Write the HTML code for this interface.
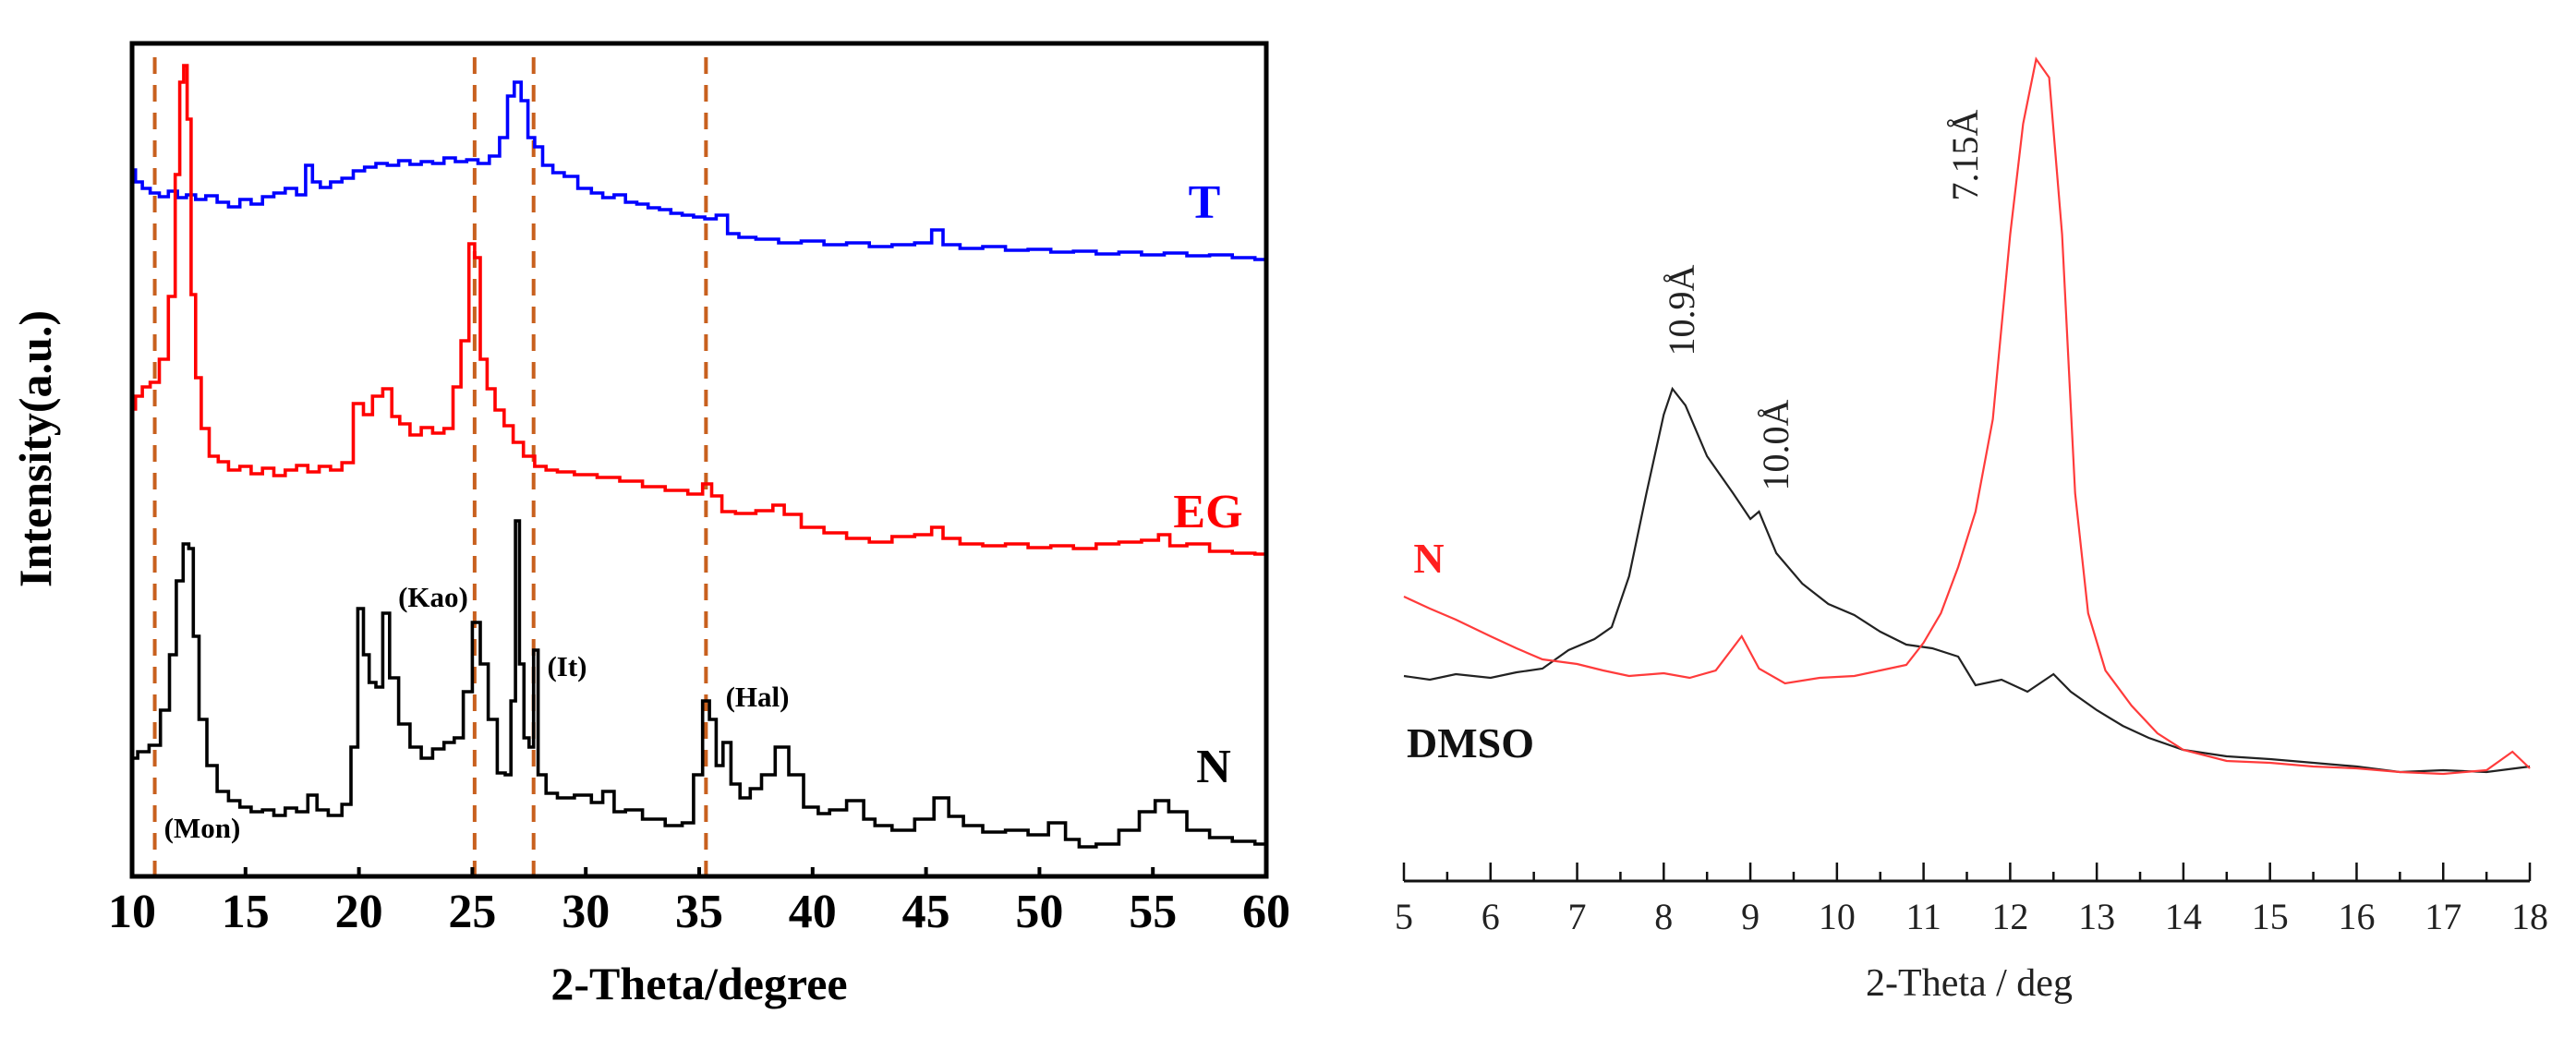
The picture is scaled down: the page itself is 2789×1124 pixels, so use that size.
<!DOCTYPE html>
<html><head><meta charset="utf-8"><style>
html,body{margin:0;padding:0;background:#fff;}
svg{display:block;}
</style></head>
<body>
<svg id="fig" width="2789" height="1124" viewBox="0 0 2789 1124" xmlns="http://www.w3.org/2000/svg">
<g id="left"></g>
<g id="right"></g>
</svg>
<script>
// ===== Left chart data =====
const leftTicks = [10,15,20,25,30,35,40,45,50,60,55];
const refLines = [11, 25.1, 27.7, 35.3];
const tTheta = [10,10.3,10.6,11,11.4,11.8,12.2,12.6,13,13.5,14,14.5,15,15.5,16,16.5,17,17.5,17.8,18.1,18.5,19,19.5,20,20.5,21,21.5,22,22.5,23,23.5,24,24.5,25,25.5,26,26.4,26.7,27,27.3,27.6,27.9,28.3,28.8,29.3,30,30.5,31,31.5,32,32.5,33,33.5,34,34.5,35,35.5,36,36.5,37,38,39,40,41,42,43,44,45,45.5,46,47,48,49,50,51,52,53,54,55,56,57,58,59,60];
const tInt = [765,752,745,740,736,742,735,738,733,737,730,725,733,728,736,740,745,738,770,752,746,752,756,764,768,772,770,775,771,774,772,778,774,776,772,780,800,845,860,840,800,790,770,762,758,745,740,735,738,730,728,724,722,718,716,714,712,716,696,692,690,686,688,684,686,682,684,686,700,684,680,682,678,679,676,677,674,676,673,675,672,673,670,668];
const egTheta = [10,10.3,10.6,11,11.4,11.8,12.0,12.2,12.35,12.5,12.7,12.9,13.2,13.6,14,14.5,15,15.5,16,16.5,17,17.5,18,18.5,19,19.5,20,20.4,20.8,21.3,21.6,22,22.5,23,23.5,24,24.3,24.7,25,25.2,25.5,25.8,26.2,26.6,27,27.5,28,28.5,29,30,31,32,33,34,35,35.3,35.8,36.2,37,38,38.5,39,40,41,42,43,44,45,45.5,46,47,48,49,50,51,52,53,54,55,55.5,56,57,58,59,60];
const egInt = [506,520,530,535,560,628,760,860,878,820,630,540,485,455,449,440,444,436,442,434,440,445,438,444,440,448,512,500,520,528,498,490,478,486,480,485,530,580,685,670,560,528,505,488,470,455,444,440,438,435,432,428,422,418,414,425,412,395,393,396,402,392,378,372,366,362,368,370,378,366,360,358,360,356,358,355,360,362,364,370,358,360,352,350,349];
const nTheta = [10,10.5,11,11.5,11.8,12.1,12.4,12.6,12.8,13.1,13.5,14,14.5,15,15.5,16,16.5,17,17.5,18,18.3,19,19.5,19.8,20.1,20.3,20.6,20.9,21.2,21.5,22,22.5,23,23.5,24,24.4,24.8,25.2,25.5,25.9,26.3,26.6,26.8,27.0,27.15,27.4,27.6,27.8,28,28.5,29,30,30.5,31,31.5,32,33,34,34.5,35,35.3,35.6,35.9,36.2,36.6,37,37.5,38,38.7,39.2,40,40.5,41,42,42.5,43,44,45,45.7,46.3,47,48,49,50,50.8,51.5,52,53,54,54.8,55.4,56,57,58,59,60];
const nInt = [128,135,142,180,240,320,360,355,260,170,120,92,82,75,70,72,66,74,70,88,72,66,78,140,290,240,210,205,285,215,165,140,128,138,145,150,200,275,230,170,112,110,190,385,230,150,140,245,110,90,85,88,80,92,70,72,62,55,58,110,190,170,120,145,100,85,95,110,140,110,75,68,72,82,62,55,50,62,85,65,55,48,50,45,58,40,32,35,50,70,82,70,50,42,38,35];

// ===== Right chart data =====
const rightTicks = [5,6,7,8,9,10,11,12,13,14,15,16,17,18];
const dTheta = [5,5.3,5.6,6,6.3,6.6,6.9,7.2,7.4,7.6,7.8,8.0,8.1,8.25,8.5,8.8,9.0,9.1,9.3,9.6,9.9,10.2,10.5,10.8,11.1,11.4,11.6,11.9,12.2,12.5,12.7,13,13.3,13.6,14,14.5,15,15.5,16,16.5,17,17.5,18];
const dInt = [222,218,224,220,226,230,250,262,275,330,420,505,533,515,460,420,392,400,355,322,300,288,270,256,252,243,212,218,205,224,205,185,168,155,142,135,132,128,124,118,120,118,124];
const rnTheta = [5,5.3,5.6,6,6.3,6.6,7,7.3,7.6,8,8.3,8.6,8.9,9.1,9.4,9.8,10.2,10.5,10.8,11.0,11.2,11.4,11.6,11.8,12.0,12.15,12.3,12.45,12.6,12.75,12.9,13.1,13.4,13.7,14,14.5,15,15.5,16,16.5,17,17.5,17.8,18];
const rnInt = [308,295,283,265,252,240,235,228,222,225,220,228,265,230,214,220,222,228,234,258,290,340,400,500,700,820,890,870,700,420,290,228,190,160,142,130,128,124,122,118,116,120,140,122];

const NS = 'http://www.w3.org/2000/svg';
function mk(parent, tag, attrs, text){
  const e = document.createElementNS(NS, tag);
  for (const k in attrs) e.setAttribute(k, attrs[k]);
  if (text !== undefined) e.textContent = text;
  parent.appendChild(e);
  return e;
}

// ----- Left chart -----
const L = document.getElementById('left');
const lx0=143, lx1=1371, ly0=47, ly1=949;
const lxs = v => lx0 + (v-10)/(60-10)*(lx1-lx0);
const lys = v => ly1 - v;
function stepPath(xs, ys, fx, fy){
  let d = 'M'+fx(xs[0]).toFixed(1)+' '+fy(ys[0]).toFixed(1);
  for (let i=1;i<xs.length;i++){
    const mid = (fx(xs[i-1])+fx(xs[i]))/2;
    d += ' H'+mid.toFixed(1)+' V'+fy(ys[i]).toFixed(1);
  }
  d += ' H'+fx(xs[xs.length-1]).toFixed(1);
  return d;
}
refLines.forEach(r=>{
  const el = mk(L,'line',{x1:lxs(r),x2:lxs(r),y1:62,y2:ly1,stroke:'#c8601e','stroke-width':4,'stroke-dasharray':'18,12'});
  
  
});
[[tTheta,tInt,'#0000ff','series-t'],[egTheta,egInt,'#ff0000','series-eg'],[nTheta,nInt,'#000000','series-n']].forEach(s=>{
  const el = mk(L,'path',{d:stepPath(s[0],s[1],lxs,lys),fill:'none',stroke:s[2],'stroke-width':3.6,'stroke-linejoin':'miter'});
  
  
});
const frame = mk(L,'rect',{x:lx0,y:ly0,width:lx1-lx0,height:ly1-ly0,fill:'none',stroke:'#000','stroke-width':5});


leftTicks.forEach(t=>{
  const tk = mk(L,'line',{x1:lxs(t),x2:lxs(t),y1:ly1,y2:ly1-10,stroke:'#000','stroke-width':4});
  
  
  const lb = mk(L,'text',{x:lxs(t),y:1004,'text-anchor':'middle','font-family':'Liberation Serif, serif','font-weight':'bold','font-size':52,fill:'#000'}, String(t));
  
  
});
const lxt = mk(L,'text',{x:757,y:1082,'text-anchor':'middle','font-family':'Liberation Serif, serif','font-weight':'bold','font-size':50,fill:'#000'},'2-Theta/degree');


const lyt = mk(L,'text',{x:0,y:0,transform:'translate(55,486) rotate(-90)','text-anchor':'middle','font-family':'Liberation Serif, serif','font-weight':'bold','font-size':50,fill:'#000'},'Intensity(a.u.)');


[['T',1304,236,'#0000ff','label-t'],['EG',1308,571,'#ff0000','label-eg'],['N',1314,847,'#000','label-n']].forEach(a=>{
  const el = mk(L,'text',{x:a[1],y:a[2],'text-anchor':'middle','font-family':'Liberation Serif, serif','font-weight':'bold','font-size':52,fill:a[3]},a[0]);
  
  
});
[['(Kao)',469,657,'label-kao'],['(It)',614,732,'label-it'],['(Hal)',820,765,'label-hal'],['(Mon)',219,907,'label-mon']].forEach(a=>{
  const el = mk(L,'text',{x:a[1],y:a[2],'text-anchor':'middle','font-family':'Liberation Serif, serif','font-weight':'bold','font-size':31,fill:'#000'},a[0]);
  
  
});

// ----- Right chart -----
const R = document.getElementById('right');
const rx0=1520, rx1=2739, ry1=954;
const rxs = v => rx0 + (v-5)/(18-5)*(rx1-rx0);
const rys = v => ry1 - v;
function linePath(xs, ys, fx, fy){
  return xs.map((x,i)=>(i?'L':'M')+fx(x).toFixed(1)+' '+fy(ys[i]).toFixed(1)).join(' ');
}
const rd = mk(R,'path',{d:linePath(dTheta,dInt,rxs,rys),fill:'none',stroke:'#222','stroke-width':2.2});


const rn = mk(R,'path',{d:linePath(rnTheta,rnInt,rxs,rys),fill:'none',stroke:'#ff3b3b','stroke-width':2.2});


const rax = mk(R,'line',{x1:rx0,x2:rx1,y1:ry1,y2:ry1,stroke:'#111','stroke-width':3});


rightTicks.forEach((t,i)=>{
  const tk = mk(R,'line',{x1:rxs(t),x2:rxs(t),y1:ry1,y2:ry1-20,stroke:'#111','stroke-width':2.5});
  
  
  if (i < rightTicks.length-1){
    const mt = mk(R,'line',{x1:rxs(t+0.5),x2:rxs(t+0.5),y1:ry1,y2:ry1-10,stroke:'#111','stroke-width':2.5});
    
    
  }
  const lb = mk(R,'text',{x:rxs(t),y:1006,'text-anchor':'middle','font-family':'Liberation Serif, serif','font-size':40,fill:'#222'}, String(t));
  
  
});
const rxt = mk(R,'text',{x:2132,y:1078,'text-anchor':'middle','font-family':'Liberation Serif, serif','font-size':42,fill:'#222'},'2-Theta / deg');


[['7.15Å',2127,168,'label-7-15'],['10.9Å',1820,336,'label-10-9'],['10.0Å',1922,482,'label-10-0']].forEach(a=>{
  const el = mk(R,'text',{x:0,y:0,transform:'translate('+(a[1]+14)+','+a[2]+') rotate(-90)','text-anchor':'middle','font-family':'Liberation Serif, serif','font-size':40,fill:'#222'},a[0]);
  
  
});
const rnl = mk(R,'text',{x:1547,y:620,'text-anchor':'middle','font-family':'Liberation Serif, serif','font-weight':'bold','font-size':46,fill:'#ff2020'},'N');


const rdl = mk(R,'text',{x:1592,y:820,'text-anchor':'middle','font-family':'Liberation Serif, serif','font-weight':'bold','font-size':46,fill:'#111'},'DMSO');


</script>
</body></html>
